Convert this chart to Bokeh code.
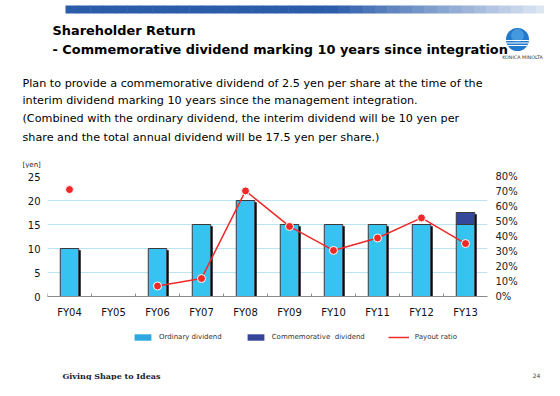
import numpy as np
from bokeh.plotting import figure
from bokeh.layouts import column
from bokeh.models import (ColumnDataSource, FactorRange, Range1d, LinearAxis, FixedTicker,
                          PrintfTickFormatter, Legend, LegendItem)
from bokeh.core.properties import value
from bokeh.transform import dodge
from bokeh.embed import file_html
from bokeh.resources import INLINE

# ---------------- data ----------------
years = ["FY04", "FY05", "FY06", "FY07", "FY08", "FY09", "FY10", "FY11", "FY12", "FY13"]
ordinary_dividend = [10, np.nan, 10, 15, 20, 15, 15, 15, 15, 15]
commemorative_dividend = [0, 0, 0, 0, 0, 0, 0, 0, 0, 2.5]
payout_ratio = [71.3, np.nan, 7.0, 12.0, 70.4, 46.7, 30.7, 39.0, 52.4, 35.3]
yen_ticks = [0, 5, 10, 15, 20, 25]
pct_ticks = [0, 10, 20, 30, 40, 50, 60, 70, 80]

ordv = np.array(ordinary_dividend, dtype=float)
comm = np.array(commemorative_dividend, dtype=float)
total = ordv + comm
comm_top = np.where(comm > 0, total, np.nan)
src = ColumnDataSource(dict(fy=years, ordinary=ordv, comm_top=comm_top,
                            shadow_top=total - 0.35, payout=np.array(payout_ratio, dtype=float)))

W = 544
SANS = value("DejaVu Sans")


def blank(top, bottom):
    """A figure whose frame is the whole canvas; data coords equal page pixel coords."""
    f = figure(width=W, height=bottom - top, x_range=Range1d(0, W), y_range=Range1d(bottom, top),
               min_border=0, x_axis_location=None, y_axis_location=None,
               output_backend="svg", toolbar_location=None)
    f.frame_align = False
    f.outline_line_color = None
    f.grid.visible = False
    f.background_fill_color = "white"
    f.border_fill_color = "white"
    return f


def txt(f, x, y, s, size, bold=False, font=SANS, color="black", align="left"):
    f.text(x=[x], y=[y], text=[s], text_font=font, text_font_size=f"{size}px",
           text_font_style="bold" if bold else "normal", text_color=color,
           text_baseline="middle", text_align=align)


# ---------------- top (title & text) ----------------
top = blank(0, 168)
n = 40
x0, x1 = 65, 560
c_dark = np.array([43, 92, 170])
c_light = np.array([236, 242, 250])
lefts, rights, cols = [], [], []
for i in range(n):
    a = x0 + (x1 - x0) * i / n
    b = x0 + (x1 - x0) * (i + 1) / n + 0.5
    t = max(0.0, ((a + b) / 2 - 330) / (560 - 330))
    c = c_dark + (c_light - c_dark) * t
    lefts.append(a); rights.append(b); cols.append("#%02x%02x%02x" % tuple(int(v) for v in c))
top.quad(left=lefts, right=rights, top=[5] * n, bottom=[13] * n, fill_color=cols, line_color=None)

# logo
cx, cy, r = 517, 39, 11.5
top.circle(x=[cx], y=[cy], radius=r, fill_color="#2278CC", line_color=None)
top.circle(x=[cx], y=[cy - 4], radius=6.5, fill_color="#5AAEEA", line_color=None, fill_alpha=0.6)
dys = [1.0, 3.5, 6.0]
top.segment(x0=[cx - np.sqrt(r * r - d * d) for d in dys], y0=[cy + d for d in dys],
            x1=[cx + np.sqrt(r * r - d * d) for d in dys], y1=[cy + d for d in dys],
            line_color="white", line_width=1.1)
txt(top, 522, 57, "KONICA MINOLTA", 4.8, color="#333333", align="center")

txt(top, 52, 29.5, "Shareholder Return", 12.9, bold=True)
txt(top, 52, 48.5, "- Commemorative dividend marking 10 years since integration", 12.9, bold=True)
txt(top, 22, 83.3, "Plan to provide a commemorative dividend of 2.5 yen per share at the time of the", 11.2)
txt(top, 22, 100, "interim dividend marking 10 years since the management integration.", 11.2)
txt(top, 22, 118.3, "(Combined with the ordinary dividend, the interim dividend will be 10 yen per", 11.2)
txt(top, 22, 136.7, "share and the total annual dividend will be 17.5 yen per share.)", 11.2)
txt(top, 22, 164, "[yen]", 7, color="#222222")

# ---------------- chart ----------------
p = figure(width=W, height=154, x_range=FactorRange(factors=years), y_range=Range1d(0, 25),
           output_backend="svg", toolbar_location=None,
           min_border_left=47, min_border_right=57, min_border_top=8, min_border_bottom=26)
p.frame_align = False
p.extra_y_ranges = {"pct": Range1d(0, 80)}
p.outline_line_color = None
p.background_fill_color = "white"
p.border_fill_color = "white"

p.xgrid.grid_line_color = None
p.ygrid.ticker = FixedTicker(ticks=yen_ticks)
p.ygrid.grid_line_color = "#BDE4F4"
p.ygrid.grid_line_width = 1

p.vbar(x=dodge("fy", 0.045, range=p.x_range), top="shadow_top", bottom=0, width=0.42,
       source=src, fill_color="black", line_color=None)
p.vbar(x="fy", top="ordinary", bottom=0, width=0.42, source=src,
       fill_color="#36C3EF", line_color="#3a3a3a", line_width=1)
p.vbar(x="fy", top="comm_top", bottom="ordinary", width=0.42, source=src,
       fill_color="#34479B", line_color="#3a3a3a", line_width=1)

bounds = list(range(len(years)))
p.segment(x0=bounds, y0=[0] * len(bounds), x1=bounds, y1=[0.6] * len(bounds),
          line_color="#8a8a8a", line_width=1)

p.line("fy", "payout", source=src, y_range_name="pct", line_color="#F02828", line_width=1.5)
p.scatter("fy", "payout", source=src, y_range_name="pct", size=8,
          fill_color="#F02828", line_color="white", line_width=1)


def style_axis(ax, standoff, color):
    ax.major_tick_line_color = None
    ax.minor_tick_line_color = None
    ax.major_tick_out = 0
    ax.major_tick_in = 0
    ax.minor_tick_out = 0
    ax.minor_tick_in = 0
    ax.major_label_standoff = standoff
    ax.major_label_text_font = "DejaVu Sans"
    ax.major_label_text_font_size = "10px"
    ax.major_label_text_color = color


xa = p.xaxis[0]
xa.axis_line_color = "#8a8a8a"
style_axis(xa, 10, "#111111")

ya = p.yaxis[0]
ya.ticker = FixedTicker(ticks=yen_ticks)
ya.axis_line_color = None
style_axis(ya, 7, "#111111")

ra = LinearAxis(y_range_name="pct", ticker=FixedTicker(ticks=pct_ticks),
                formatter=PrintfTickFormatter(format="%d%%"))
ra.axis_line_color = None
style_axis(ra, 8, "#222222")
p.add_layout(ra, "right")

# ---------------- bottom (legend & footer) ----------------
bot = blank(322, 380)
# legend swatch renderers (one off-canvas placeholder each, only their styles are shown)
leg_ord = bot.quad(left=[-60], right=[-50], top=[330], bottom=[335], fill_color="#2FA8E0", line_color=None)
leg_com = bot.quad(left=[-60], right=[-50], top=[330], bottom=[335], fill_color="#34459A", line_color=None)
leg_line = bot.line(x=[-60, -50], y=[330, 330], line_color="#F02828", line_width=1.5)
legend = Legend(items=[LegendItem(label="Ordinary dividend", renderers=[leg_ord]),
                       LegendItem(label="Commemorative  dividend", renderers=[leg_com]),
                       LegendItem(label="Payout ratio", renderers=[leg_line])],
                orientation="horizontal", location=(132, 39),
                glyph_width=21, glyph_height=8, label_standoff=6, spacing=23,
                padding=0, margin=0, border_line_color=None, background_fill_alpha=0,
                label_text_font="DejaVu Sans", label_text_font_size="7px",
                label_text_color="#333333", label_height=8)
bot.add_layout(legend, "center")
txt(bot, 62, 375, "Giving Shape to Ideas", 8, bold=True, font=value("DejaVu Serif"), color="#222222")
txt(bot, 536, 375, "24", 6, color="#444444", align="center")

layout = column(top, p, bot, spacing=0)
open("out.html", "w").write(file_html(layout, INLINE))
